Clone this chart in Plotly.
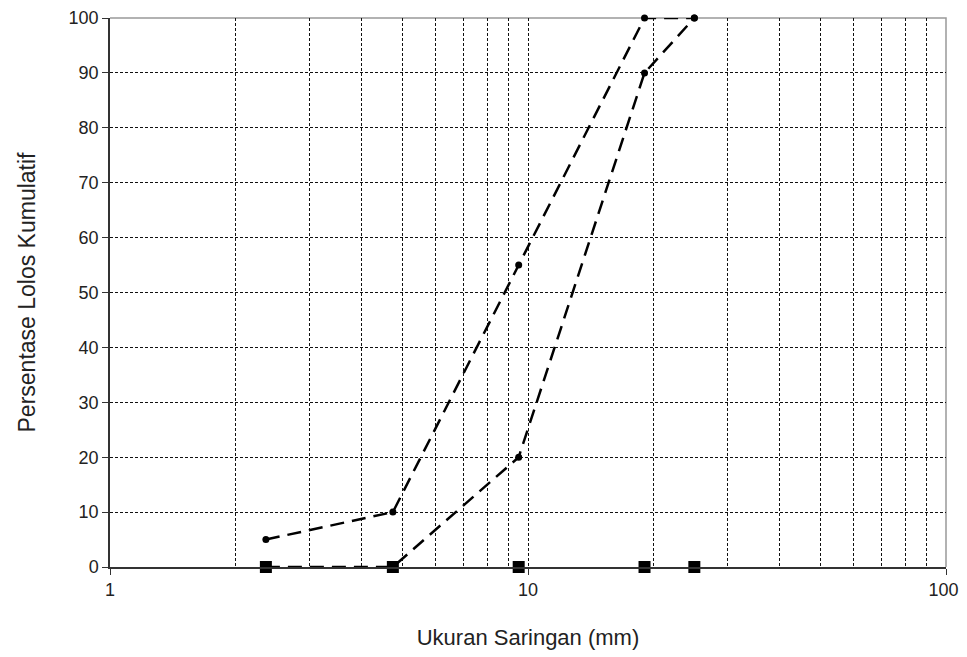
import plotly.graph_objects as go

sieve_mm = [2.36, 4.75, 9.5, 19, 25]
batas_atas = [5, 10, 55, 100, 100]
batas_bawah = [0, 0, 20, 90, 100]
agregat = [0, 0, 0, 0, 0]

x_major = [1, 10, 100]
x_major_text = ["1", "10", "100\u00a0"]
x_minor = [2, 3, 4, 5, 6, 7, 8, 9, 20, 30, 40, 50, 60, 70, 80, 90]
y_ticks = [0, 10, 20, 30, 40, 50, 60, 70, 80, 90, 100]

fig = go.Figure()

line_style = dict(color="black", width=2.5, dash="14px,8px")

fig.add_trace(go.Scatter(
    x=sieve_mm, y=batas_atas, mode="lines+markers",
    line=line_style, marker=dict(symbol="circle", size=7, color="black"),
    cliponaxis=False, showlegend=False))
fig.add_trace(go.Scatter(
    x=sieve_mm, y=batas_bawah, mode="lines+markers",
    line=line_style, marker=dict(symbol="circle", size=7, color="black"),
    cliponaxis=False, showlegend=False))
fig.add_trace(go.Scatter(
    x=sieve_mm, y=agregat, mode="markers",
    marker=dict(symbol="square", size=12, color="black"),
    cliponaxis=False, showlegend=False))

font_family = "Liberation Sans, Arial, sans-serif"

# page body adds an 8px offset, margins compensate for it
fig.update_layout(
    width=967, height=657,
    margin=dict(l=102, r=29, t=10, b=98),
    paper_bgcolor="white", plot_bgcolor="white",
    font=dict(family=font_family, color="#222", size=18),
    shapes=[dict(type="path", xref="paper", yref="paper",
                 path="M 0 1 L 1 1 L 1 0",
                 line=dict(color="#999", width=1.5), layer="below")],
)

fig.update_xaxes(
    type="log", range=[0, 2], automargin=False,
    tickmode="array", tickvals=x_major, ticktext=x_major_text,
    ticks="outside", ticklen=6, tickcolor="#333",
    showline=True, linecolor="#333", linewidth=1.5,
    showgrid=True, gridcolor="#111", griddash="3px,2px", gridwidth=1,
    minor=dict(tickmode="array", tickvals=x_minor, showgrid=True,
               gridcolor="#111", griddash="3px,2px", gridwidth=1, ticks=""),
    zeroline=False,
    tickfont=dict(size=18),
    title=dict(text="Ukuran Saringan (mm)", font=dict(size=22), standoff=30),
)
fig.update_yaxes(
    range=[0, 100], automargin=False,
    tickmode="array", tickvals=y_ticks,
    ticks="outside", ticklen=6, tickcolor="#333",
    showline=True, linecolor="#333", linewidth=1.5,
    showgrid=True, gridcolor="#111", griddash="3px,2px", gridwidth=1,
    zeroline=False,
    tickfont=dict(size=18),
    title=dict(text="Persentase Lolos Kumulatif", font=dict(size=23), standoff=27),
)

fig.write_html("out.html")
